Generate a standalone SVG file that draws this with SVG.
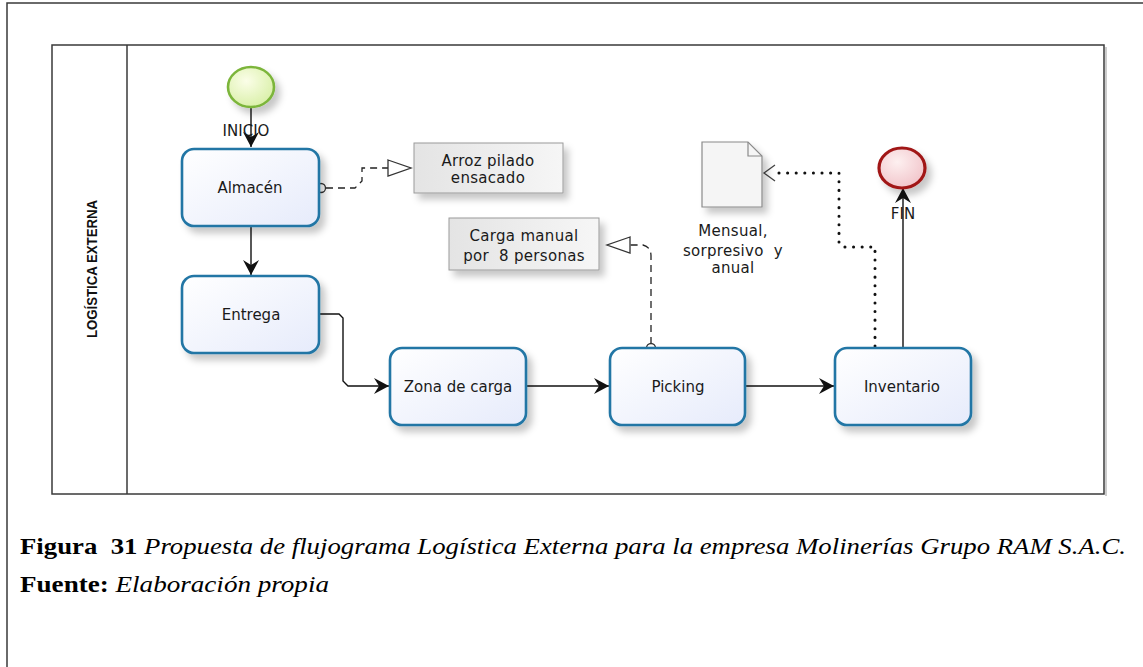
<svg xmlns="http://www.w3.org/2000/svg" width="1143" height="667" viewBox="0 0 1143 667">
  <defs>
    <style>
      .frame { fill: none; stroke: #3a3a3a; stroke-width: 1.5; }
      .task { fill: url(#taskFill); stroke: #2376a5; stroke-width: 2.6; filter: url(#shadow); }
      .lbl { font-family: "DejaVu Sans", sans-serif; font-size: 15px; fill: #1a1a1a; text-anchor: middle; }
      .note { fill: url(#noteFill); stroke: #9a9a9a; stroke-width: 1; filter: url(#shadow); }
      .flow { fill: none; stroke: #111; stroke-width: 1.4; }
      .assoc { fill: none; stroke: #222; stroke-width: 1.3; stroke-dasharray: 7 5; }
      .dotted { fill: none; stroke: #111; stroke-width: 3; stroke-dasharray: 0.1 8.5; stroke-linecap: round; }
      .cap { font-family: "Liberation Serif", serif; font-size: 24px; fill: #000; }
    </style>
    <linearGradient id="taskFill" x1="0" y1="0" x2="1" y2="1">
      <stop offset="0" stop-color="#ffffff"/>
      <stop offset="1" stop-color="#e6ebfb"/>
    </linearGradient>
    <linearGradient id="noteFill" x1="0" y1="0" x2="1" y2="0">
      <stop offset="0" stop-color="#e4e4e4"/>
      <stop offset="1" stop-color="#f6f6f6"/>
    </linearGradient>
    <radialGradient id="startFill" cx="0.4" cy="0.35" r="0.7">
      <stop offset="0" stop-color="#fbfee8"/>
      <stop offset="1" stop-color="#d8efa6"/>
    </radialGradient>
    <radialGradient id="endFill" cx="0.4" cy="0.35" r="0.7">
      <stop offset="0" stop-color="#fdf0f0"/>
      <stop offset="1" stop-color="#f1c3c9"/>
    </radialGradient>
    <filter id="shadow" x="-20%" y="-20%" width="150%" height="160%">
      <feDropShadow dx="5" dy="6" stdDeviation="3.5" flood-color="#000" flood-opacity="0.22"/>
    </filter>
    <marker id="arrow" markerUnits="userSpaceOnUse" markerWidth="16" markerHeight="16" refX="15" refY="8" orient="auto">
      <path d="M0,0 L15,8 L0,16 L5,8 Z" fill="#111"/>
    </marker>
  </defs>

  <rect width="1143" height="667" fill="#ffffff"/>

  <!-- page frame -->
  <path class="frame" d="M7,667 V3 H1143"/>

  <!-- pool and lane -->
  <g id="pool">
    <line x1="1106" y1="47" x2="1106" y2="496" stroke="#bbbbbb" stroke-width="1.5"/>
    <rect class="frame" x="52" y="45" width="1052" height="449"/>
    <line class="frame" x1="127" y1="45" x2="127" y2="494"/>
    <text transform="translate(97,269) rotate(-90)" font-family="'Liberation Sans', sans-serif" font-size="15" font-weight="bold" text-anchor="middle" textLength="138" lengthAdjust="spacingAndGlyphs" fill="#111">LOGÍSTICA EXTERNA</text>
  </g>

  <!-- connectors -->
  <g id="connectors">
    <path class="flow" d="M251,107 V147" marker-end="url(#arrow)"/>
    <path class="flow" d="M251,226 V275" marker-end="url(#arrow)"/>
    <path class="flow" d="M319,314 H339 L343,318 V381 L348,386 H389" marker-end="url(#arrow)"/>
    <path class="flow" d="M526,386 H609" marker-end="url(#arrow)"/>
    <path class="flow" d="M745,386 H834" marker-end="url(#arrow)"/>
    <path class="flow" d="M903,348 V188" marker-end="url(#arrow)"/>

    <!-- Almacén association -->
    <path class="assoc" d="M326,188 H355 L362,181 V168 H388"/>
    <circle cx="321" cy="188" r="4.5" fill="#fff" stroke="#333" stroke-width="1.3"/>
    <path d="M388,160 L411,168 L388,176 Z" fill="#fff" stroke="#333" stroke-width="1.3"/>

    <!-- Picking association -->
    <path class="assoc" d="M651,344 V256 Q651,247 643,245 H630"/>
    <circle cx="651" cy="348" r="4.5" fill="#fff" stroke="#333" stroke-width="1.3"/>
    <path d="M630,237 L607,245 L630,253 Z" fill="#fff" stroke="#333" stroke-width="1.3"/>

    <!-- Inventario to document -->
    <path class="dotted" d="M875,346 V247 H843 L839,243 V173 H777"/>
    <path d="M775,165 L764,173 L775,181" fill="none" stroke="#444" stroke-width="1.3"/>
  </g>

  <!-- events -->
  <g id="inicio">
    <ellipse cx="251" cy="87" rx="23" ry="20" fill="url(#startFill)" stroke="#7cb53a" stroke-width="2.6" filter="url(#shadow)"/>
    <text class="lbl" x="246" y="136">INICIO</text>
  </g>
  <g id="fin">
    <ellipse cx="902" cy="168" rx="23" ry="20" fill="url(#endFill)" stroke="#a11818" stroke-width="3.2" filter="url(#shadow)"/>
    <text class="lbl" x="903" y="219">FIN</text>
  </g>

  <!-- tasks -->
  <g id="almacen">
    <rect class="task" x="182" y="149" width="137" height="77" rx="12"/>
    <text class="lbl" x="250" y="193">Almacén</text>
  </g>
  <g id="entrega">
    <rect class="task" x="182" y="276" width="137" height="77" rx="12"/>
    <text class="lbl" x="251" y="320">Entrega</text>
  </g>
  <g id="zona-de-carga">
    <rect class="task" x="390" y="348" width="136" height="77" rx="12"/>
    <text class="lbl" x="458" y="392">Zona de carga</text>
  </g>
  <g id="picking">
    <rect class="task" x="610" y="348" width="135" height="77" rx="12"/>
    <text class="lbl" x="678" y="392">Picking</text>
  </g>
  <g id="inventario">
    <rect class="task" x="835" y="348" width="136" height="77" rx="12"/>
    <text class="lbl" x="902" y="392">Inventario</text>
  </g>

  <!-- annotations -->
  <g id="arroz-pilado">
    <rect class="note" x="414" y="143" width="149" height="50"/>
    <text class="lbl" x="488" y="166" letter-spacing="0.3">Arroz pilado</text>
    <text class="lbl" x="488" y="183" letter-spacing="0.3">ensacado</text>
  </g>
  <g id="carga-manual">
    <rect class="note" x="449" y="218" width="150" height="52"/>
    <text class="lbl" x="524" y="241" letter-spacing="0.3">Carga manual</text>
    <text class="lbl" x="524" y="261" letter-spacing="0.3" xml:space="preserve">por  8 personas</text>
  </g>

  <!-- data object -->
  <g id="documento">
    <path d="M702,142 H748 L762,156 V207 H702 Z" fill="#f5f5f5" stroke="#8a8a8a" stroke-width="1.2" filter="url(#shadow)"/>
    <path d="M748,142 V156 H762" fill="none" stroke="#8a8a8a" stroke-width="1.2"/>
    <text class="lbl" x="733" y="236" letter-spacing="0.3">Mensual,</text>
    <text class="lbl" x="733" y="256" letter-spacing="0.3" xml:space="preserve">sorpresivo  y</text>
    <text class="lbl" x="733" y="273" letter-spacing="0.3">anual</text>
  </g>

  <!-- caption -->
  <text class="cap" x="20" y="554" textLength="1106" lengthAdjust="spacingAndGlyphs" xml:space="preserve"><tspan font-weight="bold">Figura  31</tspan><tspan font-style="italic"> Propuesta de flujograma Logística Externa para la empresa Molinerías Grupo RAM S.A.C.</tspan></text>
  <text class="cap" x="20" y="592" textLength="309" lengthAdjust="spacingAndGlyphs" xml:space="preserve"><tspan font-weight="bold">Fuente:</tspan><tspan font-style="italic"> Elaboración propia</tspan></text>
</svg>
